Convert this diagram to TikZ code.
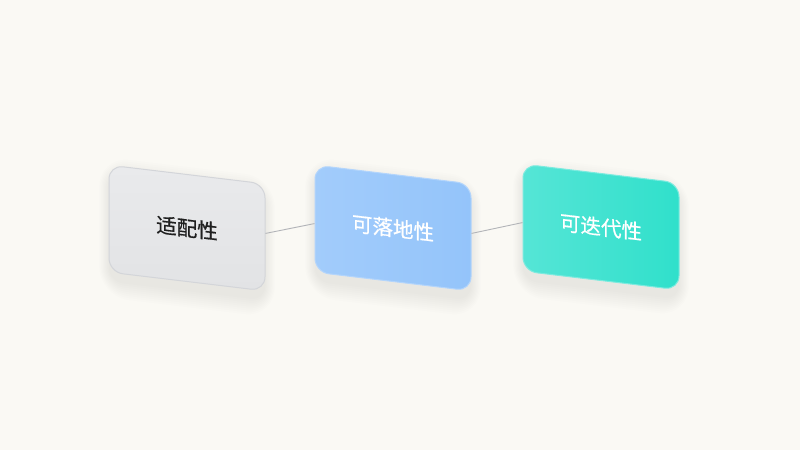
\documentclass[tikz,border=0pt]{standalone}
\usepackage{fontspec}
\newfontfamily\cjk[FakeBold=0.7]{Noto Sans CJK SC}
\usetikzlibrary{calc}
\definecolor{bgc}{HTML}{FAF9F4}
\definecolor{grayf}{HTML}{E2E3E5}
\definecolor{grayt}{HTML}{E9EAEC}
\definecolor{grayd}{HTML}{D3D5D9}
\definecolor{bluea}{HTML}{A2CCFB}
\definecolor{blueb}{HTML}{94C4FA}
\definecolor{blued}{HTML}{B3D5FC}
\definecolor{teala}{HTML}{55E5D6}
\definecolor{tealb}{HTML}{30E0CB}
\definecolor{teald}{HTML}{7CEBDF}
\definecolor{linec}{HTML}{B2B4B8}
\definecolor{shadc}{HTML}{9AA0AA}
\tikzset{
  card/.style={minimum width=156pt, minimum height=107pt, rounded corners=14pt,
    yslant=-0.12, line width=1pt, inner sep=0pt,
    font=\cjk\fontsize{20.5}{24}\selectfont},
  conn/.style={draw=linec, line width=0.9pt}
}
\newcommand\myshadow[2]{%
  \begin{scope}[shift={(#1,#2)}, yslant=-0.12]
    \foreach \k in {0,2,...,16}{
      \fill[shadc, opacity=0.018, rounded corners={14pt+\k pt}]
        (-78-\k*0.6,-46-\k) rectangle (78+\k*0.6,62+\k);
    }
  \end{scope}}
\begin{document}
\begin{tikzpicture}[x=1pt,y=-1pt]
\fill[bgc] (0,0) rectangle (800,450);
\useasboundingbox (0,0) rectangle (800,450);
\myshadow{187}{229}
\myshadow{393}{229}
\myshadow{601}{228}
\node[card, draw=grayd, top color=grayt, bottom color=grayf, text=black!88] (b1) at (187,228) {适配性};
\node[card, draw=blued, left color=bluea, right color=blueb, text=white] (b2) at (393,228) {可落地性};
\node[card, draw=teald, left color=teala, right color=tealb, text=white] (b3) at (601,227) {可迭代性};
\draw[conn] ([yshift=4pt]b1.east) -- ([yshift=-5pt]b2.west);
\draw[conn] ([yshift=4pt]b2.east) -- ([yshift=-5pt]b3.west);
\end{tikzpicture}
\end{document}
